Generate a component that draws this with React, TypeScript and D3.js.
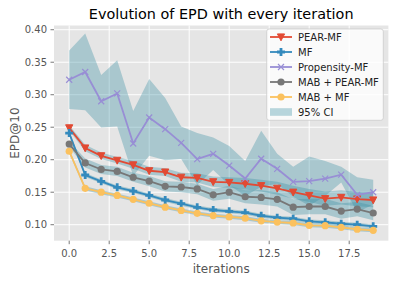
import React from 'react'
import * as d3 from 'd3'

// iteration index on the x axis
const iterations = [0, 1, 2, 3, 4, 5, 6, 7, 8, 9, 10, 11, 12, 13, 14, 15, 16, 17, 18, 19]

// mean EPD@10 per method
const pearMF = [0.249, 0.218, 0.206, 0.199, 0.192, 0.183, 0.181, 0.173, 0.172, 0.166, 0.165, 0.163, 0.16, 0.156, 0.15, 0.145, 0.14, 0.142, 0.1395, 0.138]
const mf = [0.241, 0.1765, 0.1667, 0.1575, 0.1518, 0.1452, 0.138, 0.1323, 0.1267, 0.1226, 0.1206, 0.1185, 0.1138, 0.1108, 0.1092, 0.1052, 0.1037, 0.1015, 0.1, 0.0975]
const propensityMF = [0.323, 0.335, 0.29, 0.302, 0.225, 0.265, 0.247, 0.226, 0.201, 0.209, 0.191, 0.171, 0.2015, 0.186, 0.166, 0.167, 0.171, 0.177, 0.146, 0.15]
const mabPearMF = [0.224, 0.195, 0.185, 0.182, 0.173, 0.167, 0.159, 0.158, 0.155, 0.146, 0.15, 0.143, 0.142, 0.139, 0.127, 0.128, 0.128, 0.121, 0.124, 0.118]
const mabMF = [0.213, 0.156, 0.15, 0.145, 0.139, 0.133, 0.127, 0.122, 0.1175, 0.114, 0.112, 0.11, 0.106, 0.104, 0.1026, 0.099, 0.0985, 0.096, 0.093, 0.0914]

// half width of the 95% confidence interval
const pearMFCI = [0.004, 0.005, 0.005, 0.005, 0.006, 0.006, 0.006, 0.007, 0.007, 0.008, 0.008, 0.009, 0.009, 0.01, 0.01, 0.01, 0.011, 0.011, 0.011, 0.011]
const mfCI = [0.003, 0.003, 0.003, 0.003, 0.003, 0.003, 0.003, 0.003, 0.003, 0.003, 0.003, 0.003, 0.003, 0.003, 0.003, 0.003, 0.003, 0.003, 0.003, 0.003]
const propensityMFCI = [0.045, 0.059, 0.0405, 0.051, 0.05, 0.059, 0.048, 0.025, 0.04, 0.025, 0.03, 0.027, 0.043, 0.023, 0.023, 0.038, 0.027, 0.012, 0.027, 0.019]
const mabPearMFCI = [0.004, 0.007, 0.007, 0.007, 0.007, 0.008, 0.008, 0.008, 0.008, 0.009, 0.01, 0.01, 0.011, 0.011, 0.012, 0.012, 0.012, 0.012, 0.011, 0.011]
const mabMFCI = [0.003, 0.003, 0.003, 0.003, 0.003, 0.003, 0.003, 0.003, 0.003, 0.003, 0.003, 0.003, 0.003, 0.003, 0.003, 0.003, 0.003, 0.003, 0.003, 0.003]

const seriesNames = ['PEAR-MF', 'MF', 'Propensity-MF', 'MAB + PEAR-MF', 'MAB + MF']
const xTicks = [0, 2.5, 5, 7.5, 10, 12.5, 15, 17.5]
const yTicks = [0.1, 0.15, 0.2, 0.25, 0.3, 0.35, 0.4]

const width = 398
const height = 282
const plot = { left: 54, right: 388.4, top: 25.5, bottom: 240.7 }
const font = 'DejaVu Sans, sans-serif'
const ciColor = '#3a8fa3'

type Marker = 'v' | 'P' | 'x' | 'o'

const series = [
  { name: seriesNames[0], values: pearMF, ci: pearMFCI, color: '#E24A33', marker: 'v' as Marker },
  { name: seriesNames[1], values: mf, ci: mfCI, color: '#348ABD', marker: 'P' as Marker },
  { name: seriesNames[2], values: propensityMF, ci: propensityMFCI, color: '#988ED5', marker: 'x' as Marker },
  { name: seriesNames[3], values: mabPearMF, ci: mabPearMFCI, color: '#777777', marker: 'o' as Marker },
  { name: seriesNames[4], values: mabMF, ci: mabMFCI, color: '#FBC15E', marker: 'o' as Marker },
]

function drawMarker(kind: Marker, cx: number, cy: number, color: string, key: string | number) {
  if (kind === 'v') {
    return <path key={key} d={`M${cx - 3.6},${cy - 3.1}L${cx + 3.6},${cy - 3.1}L${cx},${cy + 3.8}Z`} fill={color} stroke={color} strokeWidth={1} />
  }
  if (kind === 'P') {
    const a = 4, b = 1.4
    const d = `M${cx - b},${cy - a}H${cx + b}V${cy - b}H${cx + a}V${cy + b}H${cx + b}V${cy + a}H${cx - b}V${cy + b}H${cx - a}V${cy - b}H${cx - b}Z`
    return <path key={key} d={d} fill={color} />
  }
  if (kind === 'x') {
    return <path key={key} d={`M${cx - 3},${cy - 3}L${cx + 3},${cy + 3}M${cx - 3},${cy + 3}L${cx + 3},${cy - 3}`} stroke={color} strokeWidth={1.2} fill="none" />
  }
  return <circle key={key} cx={cx} cy={cy} r={3.6} fill={color} />
}

export default function App() {
  const x = d3.scaleLinear().domain([-0.95, 19.95]).range([plot.left, plot.right])
  const y = d3.scaleLinear().domain([0.0754, 0.4065]).range([plot.bottom, plot.top])

  const line = d3.line<number>()
    .x((_, i) => x(iterations[i]))
    .y((d) => y(d))

  const band = (values: number[], ci: number[]) =>
    d3.area<number>()
      .x((_, i) => x(iterations[i]))
      .y0((d, i) => y(d - ci[i]))
      .y1((d, i) => y(d + ci[i]))(values)

  const fmtY = d3.format('.2f')
  const fmtX = d3.format('.1f')

  const legendX = 266.7
  const legendY = 29
  const rowH = 15

  return (
    <svg width={width} height={height} style={{ position: 'absolute', left: 0, top: 0, background: '#fff' }} fontFamily={font}>
      <rect x={plot.left} y={plot.top} width={plot.right - plot.left} height={plot.bottom - plot.top} fill="#E5E5E5" />

      {/* grid */}
      {yTicks.map((t) => (
        <line key={'gy' + t} x1={plot.left} x2={plot.right} y1={y(t)} y2={y(t)} stroke="#fff" strokeWidth={1} />
      ))}
      {xTicks.map((t) => (
        <line key={'gx' + t} x1={x(t)} x2={x(t)} y1={plot.top} y2={plot.bottom} stroke="#fff" strokeWidth={1} />
      ))}

      {/* confidence bands */}
      {series.map((s) => (
        <path key={'ci' + s.name} d={band(s.values, s.ci) || ''} fill={ciColor} fillOpacity={0.35} />
      ))}

      {/* lines and markers */}
      {series.map((s) => (
        <g key={s.name}>
          <path d={line(s.values) || ''} fill="none" stroke={s.color} strokeWidth={1.8} />
          {s.values.map((v, i) => drawMarker(s.marker, x(iterations[i]), y(v), s.color, i))}
        </g>
      ))}

      {/* y axis */}
      {yTicks.map((t) => (
        <g key={'ty' + t}>
          <line x1={plot.left - 3.5} x2={plot.left} y1={y(t)} y2={y(t)} stroke="#555" strokeWidth={0.8} />
          <text x={plot.left - 7} y={y(t)} dy="0.35em" textAnchor="end" fontSize={10} fill="#555">{fmtY(t)}</text>
        </g>
      ))}
      {/* x axis */}
      {xTicks.map((t) => (
        <g key={'tx' + t}>
          <line x1={x(t)} x2={x(t)} y1={plot.bottom} y2={plot.bottom + 3.5} stroke="#555" strokeWidth={0.8} />
          <text x={x(t)} y={plot.bottom + 16} textAnchor="middle" fontSize={10} fill="#555">{fmtX(t)}</text>
        </g>
      ))}

      <text x={(plot.left + plot.right) / 2} y={273} textAnchor="middle" fontSize={12} fill="#555">iterations</text>
      <text transform={`translate(19,${(plot.top + plot.bottom) / 2}) rotate(-90)`} textAnchor="middle" fontSize={12} fill="#555">EPD@10</text>
      <text x={(plot.left + plot.right) / 2} y={18.5} textAnchor="middle" fontSize={14.4} fill="#000">Evolution of EPD with every iteration</text>

      {/* legend */}
      <rect x={legendX} y={legendY} width={116.6} height={91.3} rx={2.5} fill="#fff" fillOpacity={0.8} stroke="#ccc" strokeOpacity={0.8} strokeWidth={1} />
      {series.map((s, i) => {
        const cy = legendY + 8 + i * rowH
        return (
          <g key={'lg' + s.name}>
            <line x1={270} x2={292} y1={cy} y2={cy} stroke={s.color} strokeWidth={1.8} />
            {drawMarker(s.marker, 281, cy, s.color, 'm')}
            <text x={298} y={cy} dy="0.35em" fontSize={10} fill="#222">{s.name}</text>
          </g>
        )
      })}
      <rect x={270} y={legendY + 8 + 5 * rowH - 3.8} width={22} height={7.6} fill={ciColor} fillOpacity={0.35} />
      <text x={298} y={legendY + 8 + 5 * rowH} dy="0.35em" fontSize={10} fill="#222">95% CI</text>
    </svg>
  )
}
